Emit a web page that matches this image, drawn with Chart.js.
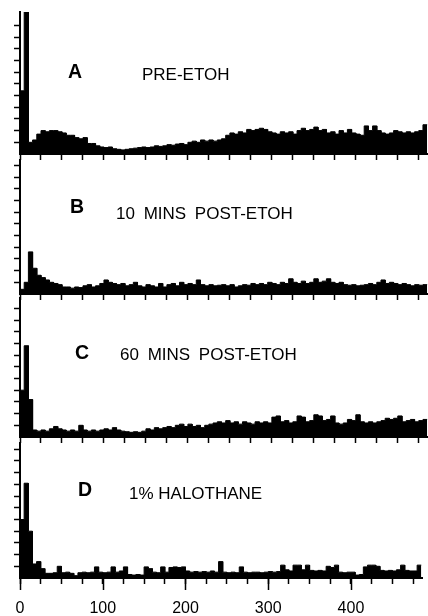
<!DOCTYPE html>
<html>
<head>
<meta charset="utf-8">
<script src="https://cdn.jsdelivr.net/npm/chart.js@4.4.1/dist/chart.umd.min.js"></script>
<style>
  html, body { margin: 0; padding: 0; background: #fff; }
  #wrap { position: relative; width: 428px; height: 616px; overflow: hidden; font-family: "Liberation Sans", Arial, sans-serif; }
  canvas { position: absolute; left: 0; }
  .lbl { position: absolute; font-size: 17px; line-height: 17px; color: #000; white-space: nowrap; }
  .wide { word-spacing: 4px; }
  .big { font-weight: bold; font-size: 19.5px; line-height: 19.5px; }
</style>
</head>
<body>
<div id="wrap">
  <canvas id="pA"></canvas>
  <canvas id="pB"></canvas>
  <canvas id="pC"></canvas>
  <canvas id="pD"></canvas>
  <div class="lbl big" style="left:68px;top:62px">A</div>
  <div class="lbl" style="left:142px;top:66px">PRE-ETOH</div>
  <div class="lbl big" style="left:70px;top:197px">B</div>
  <div class="lbl wide" style="left:116px;top:205px">10 MINS POST-ETOH</div>
  <div class="lbl big" style="left:75px;top:343px">C</div>
  <div class="lbl wide" style="left:120px;top:346px">60 MINS POST-ETOH</div>
  <div class="lbl big" style="left:78px;top:480px">D</div>
  <div class="lbl" style="left:129px;top:485px">1% HALOTHANE</div>
</div>
<script>
// histogram bins, 5 units wide, starting at 0
const BIN = 5;
const X_MAX = 486;

// x tick marks every 25, labels every 100
const xTicks = [0, 25, 50, 75, 100, 125, 150, 175, 200, 225, 250, 275, 300, 325, 350, 375, 400, 425, 450, 475];
const xLabels = [0, 100, 200, 300, 400];
// small y ticks (no labels)
const yTicks = [1, 2, 3, 4, 5, 6, 7, 8, 9, 10, 11];

// A  PRE-ETOH
const preEtoh = [5.4, 12.5, 1.0, 1.2, 1.7, 2.0, 1.9, 2.0, 2.0, 1.9,
  1.8, 1.6, 1.6, 1.4, 1.3, 1.4, 0.9, 0.9, 0.7, 0.6,
  0.55, 0.6, 0.45, 0.4, 0.35, 0.4, 0.45, 0.5, 0.55, 0.6,
  0.55, 0.6, 0.7, 0.65, 0.7, 0.8, 0.75, 0.85, 0.9, 0.8,
  1.0, 1.1, 1.0, 1.2, 1.1, 1.2, 1.1, 1.2, 1.3, 1.6,
  1.8, 1.7, 1.9, 1.8, 2.1, 2.0, 2.1, 2.2, 2.1, 1.9,
  1.8, 1.7, 1.9, 1.8, 1.9, 1.7, 2.0, 2.2, 2.0, 2.1,
  2.3, 2.0, 2.1, 1.8, 1.9, 1.7, 2.0, 1.8, 2.1, 1.8,
  1.7, 1.6, 2.4, 2.0, 2.4, 2.0, 1.8, 1.7, 1.8, 2.0,
  1.9, 1.8, 1.9, 1.8, 1.9, 2.0, 2.5];

// B  10 MINS POST-ETOH
const tenMinPost = [0.4, 1.0, 3.6, 2.2, 1.6, 1.4, 1.2, 1.0, 0.9, 0.8,
  0.6, 0.6, 0.5, 0.6, 0.55, 0.7, 0.8, 0.6, 0.7, 0.9,
  1.2, 1.0, 0.9, 0.8, 0.9, 0.7, 0.8, 1.0, 0.7, 0.6,
  0.8, 0.7, 0.6, 0.9, 0.6, 0.8, 0.9, 0.7, 1.0, 0.8,
  0.9, 0.8, 1.2, 0.8, 0.7, 0.8, 0.7, 0.75, 0.8, 0.7,
  0.8, 0.6, 0.7, 0.8, 0.75, 0.9, 0.8, 0.9, 0.8, 1.0,
  0.9, 0.8, 1.0, 0.9, 1.3, 1.0, 0.9, 1.1, 0.9, 1.0,
  1.3, 1.0, 1.1, 1.3, 1.0, 0.9, 1.0, 0.8, 0.75, 0.8,
  0.7, 0.75, 0.8, 0.9, 0.8, 1.0, 1.2, 0.9, 1.0, 0.9,
  0.8, 0.9, 0.8, 0.7, 0.8, 0.75, 0.8];

// C  60 MINS POST-ETOH
const sixtyMinPost = [4.0, 7.8, 3.2, 0.6, 0.5, 0.6, 0.5, 0.7, 0.9, 0.7,
  0.6, 0.5, 0.6, 0.5, 1.0, 0.6, 0.5, 0.6, 0.5, 0.6,
  0.7, 0.6, 0.8, 0.6, 0.5, 0.45, 0.4, 0.45, 0.4, 0.5,
  0.7, 0.6, 0.8, 0.7, 0.8, 0.9, 0.8, 1.0, 1.1, 0.9,
  1.1, 0.9, 1.0, 0.8, 1.0, 1.1, 1.2, 1.3, 1.2, 1.4,
  1.2, 1.3, 1.1, 1.3, 1.2, 1.1, 1.3, 1.2, 1.3, 1.2,
  1.7, 1.8, 1.3, 1.4, 1.2, 1.3, 1.8, 1.7, 1.3, 1.4,
  1.9, 1.8, 1.4, 1.5, 1.8, 1.2, 1.1, 1.2, 1.5, 1.4,
  1.9, 1.3, 1.2, 1.3, 1.2, 1.3, 1.4, 1.6, 1.5, 1.6,
  1.8, 1.3, 1.4, 1.5, 1.3, 1.4, 1.5];

// D  1% HALOTHANE
const halothane = [5.0, 8.1, 4.0, 1.2, 1.4, 0.8, 0.4, 0.4, 0.45, 1.0,
  0.45, 0.5, 0.4, 0.2, 0.45, 0.5, 0.45, 0.5, 0.95, 0.5,
  0.45, 0.5, 0.95, 0.5, 0.6, 0.95, 0.3, 0.25, 0.3, 0.25,
  0.95, 0.8, 0.5, 0.45, 0.95, 0.5, 0.9, 0.95, 0.9, 0.95,
  0.6, 0.5, 0.55, 0.5, 0.55, 0.5, 0.6, 0.5, 1.4, 0.5,
  0.45, 0.5, 0.45, 0.95, 0.5, 0.45, 0.5, 0.5, 0.45, 0.5,
  0.55, 0.5, 0.55, 1.1, 0.7, 0.6, 1.1, 1.1, 0.7, 1.1,
  0.65, 0.6, 0.65, 0.6, 1.0, 0.9, 1.1, 0.5, 0.45, 0.5,
  0.5, 0.25, 0.3, 0.95, 1.1, 1.1, 1.0, 0.65, 0.6, 0.65,
  0.6, 0.7, 1.1, 0.65, 0.6, 0.6, 1.1];

// pixel height of one y unit, same in every panel
const UNIT_PX = 11.7;

const panels = [
  { id: 'pA', values: preEtoh, top: 12, base: 154, last: false },
  { id: 'pB', values: tenMinPost, top: 160, base: 294, last: false },
  { id: 'pC', values: sixtyMinPost, top: 298, base: 437, last: false },
  { id: 'pD', values: halothane, top: 443, base: 578, last: true }
];

// turn bins into a flat-topped outline
function histPoints(values) {
  const pts = [];
  values.forEach((v, i) => {
    pts.push({ x: i * BIN, y: v });
    pts.push({ x: (i + 1) * BIN, y: v });
  });
  return pts;
}

// longer marks at 0,100,...,400 under the last panel
const majorTicks = {
  id: 'majorTicks',
  afterDraw(chart) {
    const s = chart.scales.x;
    const ctx = chart.ctx;
    const y0 = chart.chartArea.bottom;
    ctx.save();
    ctx.strokeStyle = '#000';
    ctx.lineWidth = 1.5;
    xLabels.forEach(v => {
      const x = Math.round(s.getPixelForValue(v)) + 0.5;
      ctx.beginPath();
      ctx.moveTo(x, y0);
      ctx.lineTo(x, y0 + 12);
      ctx.stroke();
    });
    ctx.restore();
  }
};

panels.forEach(p => {
  const canvas = document.getElementById(p.id);
  const extra = p.last ? 38 : 8;
  canvas.style.top = (p.top - 2) + 'px';
  canvas.width = 428;
  canvas.height = p.base - p.top + 2 + extra;
  const yMax = (p.base - p.top) / UNIT_PX;

  new Chart(canvas, {
    type: 'line',
    data: {
      datasets: [{
        data: histPoints(p.values),
        borderColor: '#000',
        backgroundColor: '#000',
        borderWidth: 1,
        fill: 'origin',
        pointRadius: 0,
        tension: 0
      }]
    },
    plugins: p.last ? [majorTicks] : [],
    options: {
      responsive: false,
      animation: false,
      layout: { padding: { top: 2, left: 0, right: 0, bottom: 0 } },
      plugins: {
        legend: { display: false },
        tooltip: { enabled: false }
      },
      scales: {
        x: {
          type: 'linear',
          min: 0,
          max: X_MAX,
          afterBuildTicks: s => { s.ticks = xTicks.map(v => ({ value: v })); },
          afterFit: s => { s.height = extra; },
          grid: { drawOnChartArea: false, drawTicks: true, tickLength: 6, color: '#000', tickWidth: 1.5 },
          border: { display: true, color: '#000', width: 2 },
          ticks: {
            display: p.last,
            autoSkip: false,
            maxRotation: 0,
            padding: 15,
            color: '#000',
            font: { family: '"Liberation Sans", Arial, sans-serif', size: 16 },
            callback: v => xLabels.includes(v) ? String(v) : ''
          }
        },
        y: {
          min: 0,
          max: yMax,
          afterBuildTicks: s => { s.ticks = yTicks.filter(v => v < s.max).map(v => ({ value: v })); },
          afterFit: s => { s.width = 20; },
          grid: { drawOnChartArea: false, drawTicks: true, tickLength: 6, color: '#000', tickWidth: 1.5 },
          border: { display: true, color: '#000', width: 2 },
          ticks: { display: false }
        }
      }
    }
  });
});
</script>
</body>
</html>
